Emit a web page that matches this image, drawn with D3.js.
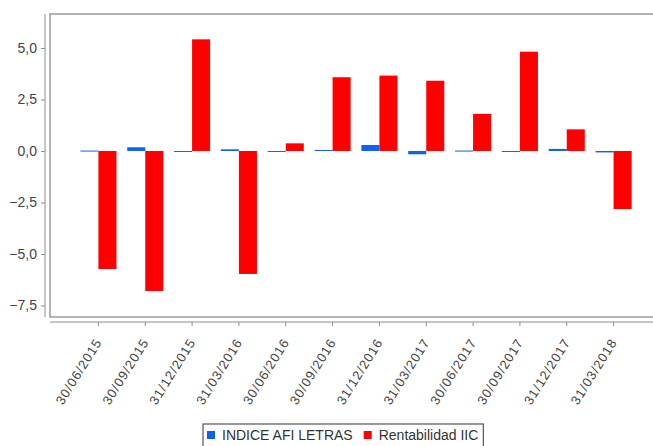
<!DOCTYPE html>
<html>
<head>
<meta charset="utf-8">
<script src="https://cdn.jsdelivr.net/npm/d3@7"></script>
<style>
  body { margin: 0; background: #fff; }
  svg { display: block; font-family: Arial, "Liberation Sans", sans-serif; }
</style>
</head>
<body>
<svg id="chart" width="653" height="446"></svg>
<script>
'use strict';

const categories = ['30/06/2015', '30/09/2015', '31/12/2015', '31/03/2016', '30/06/2016', '30/09/2016',
                    '31/12/2016', '31/03/2017', '30/06/2017', '30/09/2017', '31/12/2017', '31/03/2018'];
const seriesNames = ['INDICE AFI LETRAS', 'Rentabilidad IIC'];
const indiceAfi = [0.02, 0.18, -0.02, 0.08, -0.01, 0.05, 0.29, -0.16, 0.02, 0.0, 0.10, -0.07];
const rentabilidad = [-5.73, -6.8, 5.42, -5.97, 0.37, 3.58, 3.66, 3.41, 1.80, 4.82, 1.05, -2.82];
const yTicks = [-7.5, -5.0, -2.5, 0.0, 2.5, 5.0];
const colors = ['#1060f2', '#ff0000'];

const svg = d3.select('#chart');
const box = { left: 50, right: 660, top: 14, bottom: 317 };

const x = d3.scaleBand()
    .domain(categories)
    .range([75, 637])
    .paddingInner(0.23)
    .paddingOuter(0.115);

const xs = d3.scaleBand()
    .domain(seriesNames)
    .range([0, x.bandwidth()]);

const y = d3.scaleLinear()
    .domain([-8.06, 6.65])
    .range([box.bottom, box.top]);

// plot outline
svg.append('rect')
    .attr('x', box.left)
    .attr('y', box.top)
    .attr('width', box.right - box.left)
    .attr('height', box.bottom - box.top)
    .attr('fill', '#fff')
    .attr('stroke', '#8c8c8c')
    .attr('stroke-width', 1.3);

// bars
const rows = categories.map((c, i) => ({ cat: c, vals: [indiceAfi[i], rentabilidad[i]] }));

svg.append('g')
  .selectAll('g')
  .data(rows)
  .enter().append('g')
    .attr('transform', d => `translate(${x(d.cat)},0)`)
  .selectAll('rect')
  .data(d => d.vals.map((v, k) => ({ k, v })))
  .enter().append('rect')
    .attr('x', d => xs(seriesNames[d.k]))
    .attr('width', xs.bandwidth())
    .attr('y', d => Math.min(y(d.v), y(0)))
    .attr('height', d => Math.max(1, Math.abs(y(d.v) - y(0))))
    .attr('fill', d => colors[d.k]);

// y axis
const yAxis = d3.axisLeft(y)
    .tickValues(yTicks)
    .tickSize(4)
    .tickPadding(4)
    .tickFormat(d => d3.format('.1f')(d).replace('.', ','));

const yG = svg.append('g')
    .attr('transform', 'translate(45,0)')
    .call(yAxis);
yG.select('.domain')
    .attr('d', `M0,${box.top}V${box.bottom}`)
    .attr('stroke', '#8c8c8c');
yG.selectAll('.tick line').attr('stroke', '#8c8c8c');
yG.selectAll('.tick text')
    .attr('fill', '#444')
    .attr('font-size', 14);

// x axis
const xAxis = d3.axisBottom(x)
    .tickSize(4)
    .tickFormat('');

const xG = svg.append('g')
    .attr('transform', 'translate(0,322)')
    .call(xAxis);
xG.select('.domain')
    .attr('d', `M${box.left},0H${box.right}`)
    .attr('stroke', '#8c8c8c');
xG.selectAll('.tick line').attr('stroke', '#8c8c8c');

svg.append('g')
  .selectAll('text')
  .data(categories)
  .enter().append('text')
    .attr('transform', d => `translate(${x(d) + x.bandwidth() / 2 + 4},342) rotate(-58)`)
    .attr('text-anchor', 'end')
    .attr('font-size', 13)
    .attr('letter-spacing', 1)
    .attr('fill', '#444')
    .text(d => d);

// legend
const legend = svg.append('g');
const legendBox = legend.append('rect')
    .attr('x', 203)
    .attr('y', 424)
    .attr('width', 284)
    .attr('height', 30)
    .attr('fill', '#fff')
    .attr('stroke', '#555')
    .attr('stroke-width', 1.2);

let lx = 207;
seriesNames.forEach((name, k) => {
  legend.append('rect')
      .attr('x', lx)
      .attr('y', 431)
      .attr('width', 8)
      .attr('height', 8)
      .attr('fill', colors[k]);
  const t = legend.append('text')
      .attr('x', lx + 15)
      .attr('y', 440)
      .attr('font-size', 14)
      .attr('fill', '#333')
      .text(name);
  lx += 15 + t.node().getComputedTextLength() + 11;
});
legendBox.attr('width', lx - 203 - 6);
</script>
</body>
</html>
